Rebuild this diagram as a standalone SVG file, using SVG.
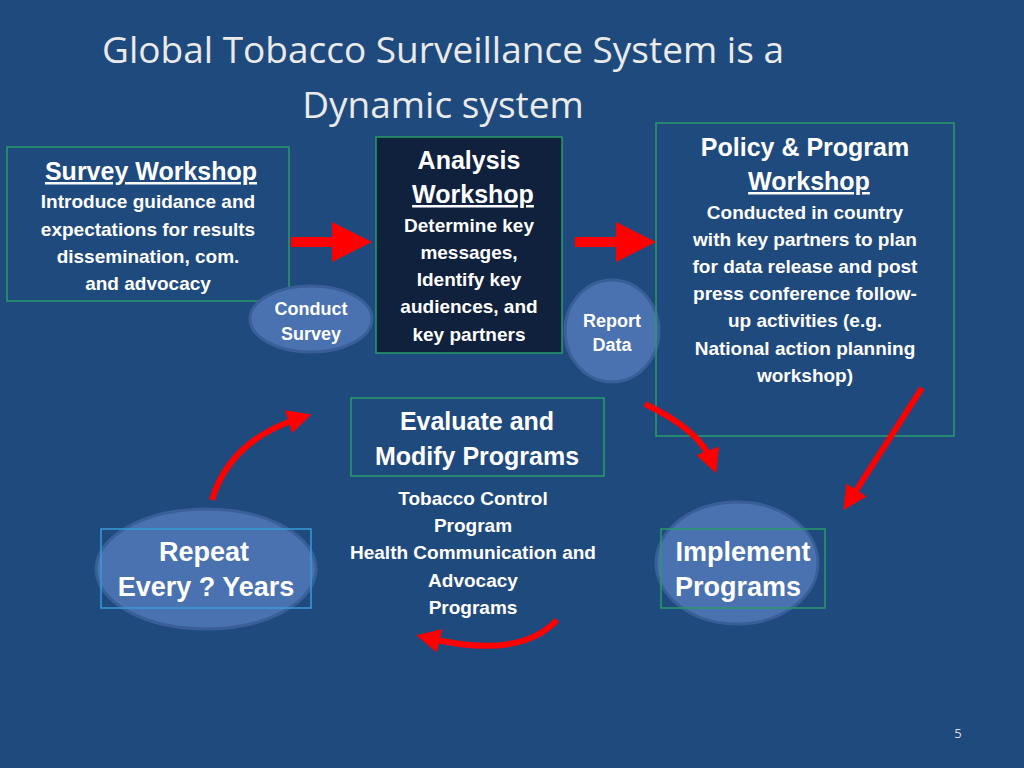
<svg xmlns="http://www.w3.org/2000/svg" width="1024" height="768" viewBox="0 0 1024 768">
<style>
.t{font-family:"Liberation Sans",Arial,sans-serif;font-weight:bold;fill:#fff;text-anchor:middle}
.box{fill:none;stroke:#2a9a6a;stroke-width:1.5}
.ell{fill:#4a72b0;stroke:#3a5f98;stroke-width:3}
.arc{fill:none;stroke:#ff0000;stroke-width:6}
</style>
<defs>
<marker id="ah" viewBox="0 0 10 10" refX="5" refY="5" markerWidth="4" markerHeight="4" orient="auto" markerUnits="strokeWidth"><path d="M0,0 L10,5 L0,10 Z" fill="#ff0000"/></marker>
</defs>
<rect width="1024" height="768" fill="#1f4a7e"/>
<g id="title" font-family="'Open Sans',sans-serif" font-size="37" fill="#eaeaea" text-anchor="middle">
<text x="443" y="63">Global Tobacco Surveillance System is  a</text>
<text x="443" y="118">Dynamic system</text>
</g>
<g id="survey">
<rect class="box" x="7" y="147" width="282" height="154"/>
<text class="t" x="151" y="180" font-size="25" text-decoration="underline">Survey Workshop</text>
<text class="t" x="148" y="208" font-size="19">Introduce guidance and</text>
<text class="t" x="148" y="236" font-size="19">expectations for results</text>
<text class="t" x="148" y="263" font-size="19">dissemination, com.</text>
<text class="t" x="148" y="290" font-size="19">and advocacy</text>
</g>
<g id="conduct">
<ellipse class="ell" cx="311" cy="319" rx="61" ry="33"/>
<text class="t" x="311" y="315" font-size="18">Conduct</text>
<text class="t" x="311" y="340" font-size="18">Survey</text>
</g>
<g id="analysis">
<rect x="376" y="137" width="186" height="216" fill="#0f213d" stroke="#2a9a6a" stroke-width="1.5"/>
<text class="t" x="469" y="169" font-size="25">Analysis</text>
<text class="t" x="473" y="203" font-size="25" text-decoration="underline">Workshop</text>
<text class="t" x="469" y="232" font-size="19">Determine key</text>
<text class="t" x="469" y="259" font-size="19">messages,</text>
<text class="t" x="469" y="286" font-size="19">Identify key</text>
<text class="t" x="469" y="313" font-size="19">audiences, and</text>
<text class="t" x="469" y="341" font-size="19">key partners</text>
</g>
<g id="report">
<ellipse class="ell" cx="612" cy="331" rx="47" ry="51"/>
<text class="t" x="612" y="327" font-size="18">Report</text>
<text class="t" x="612" y="351" font-size="18">Data</text>
</g>
<g id="policy">
<rect class="box" x="656" y="123" width="298" height="313"/>
<text class="t" x="805" y="156" font-size="25">Policy &amp; Program</text>
<text class="t" x="809" y="190" font-size="25" text-decoration="underline">Workshop</text>
<text class="t" x="805" y="219" font-size="19">Conducted in country</text>
<text class="t" x="805" y="246" font-size="19">with key partners to plan</text>
<text class="t" x="805" y="273" font-size="19">for data release and post</text>
<text class="t" x="805" y="300" font-size="19">press conference follow-</text>
<text class="t" x="805" y="327" font-size="19">up activities (e.g.</text>
<text class="t" x="805" y="355" font-size="19">National action planning</text>
<text class="t" x="805" y="382" font-size="19">workshop)</text>
</g>
<g id="evaluate">
<rect class="box" x="351" y="398" width="253" height="78"/>
<text class="t" x="477" y="430" font-size="25">Evaluate and</text>
<text class="t" x="477" y="465" font-size="25">Modify Programs</text>
</g>
<g id="tobacco">
<text class="t" x="473" y="505" font-size="19">Tobacco Control</text>
<text class="t" x="473" y="532" font-size="19">Program</text>
<text class="t" x="473" y="559" font-size="19">Health Communication and</text>
<text class="t" x="473" y="587" font-size="19">Advocacy</text>
<text class="t" x="473" y="614" font-size="19">Programs</text>
</g>
<g id="repeat">
<ellipse class="ell" cx="206" cy="569" rx="110" ry="60"/>
<rect x="101" y="529" width="210" height="79" fill="none" stroke="#3a9ad8" stroke-width="1.5"/>
<text class="t" x="204" y="561" font-size="27">Repeat</text>
<text class="t" x="206" y="596" font-size="27">Every ? Years</text>
</g>
<g id="implement">
<ellipse class="ell" cx="737" cy="563" rx="81" ry="61"/>
<rect class="box" x="661" y="529" width="164" height="79"/>
<text class="t" x="743" y="561" font-size="27">Implement</text>
<text class="t" x="738" y="596" font-size="27">Programs</text>
</g>
<g id="connectors">
<line x1="291" y1="242" x2="352" y2="242" stroke="#ff0000" stroke-width="10" marker-end="url(#ah)"/>
<line x1="575" y1="242" x2="636" y2="242" stroke="#ff0000" stroke-width="10" marker-end="url(#ah)"/>
<path class="arc" d="M645,404 Q700,430 712,462" marker-end="url(#ah)"/>
<line x1="922" y1="388" x2="850" y2="500" stroke="#ff0000" stroke-width="6" marker-end="url(#ah)"/>
<path class="arc" d="M557,620 Q520,660 428,638" marker-end="url(#ah)"/>
<path class="arc" d="M212,500 Q230,440 300,418" marker-end="url(#ah)"/>
</g>
<text x="958" y="738" font-family="'Open Sans',sans-serif" font-size="13" fill="#ddd" text-anchor="middle">5</text>
</svg>
